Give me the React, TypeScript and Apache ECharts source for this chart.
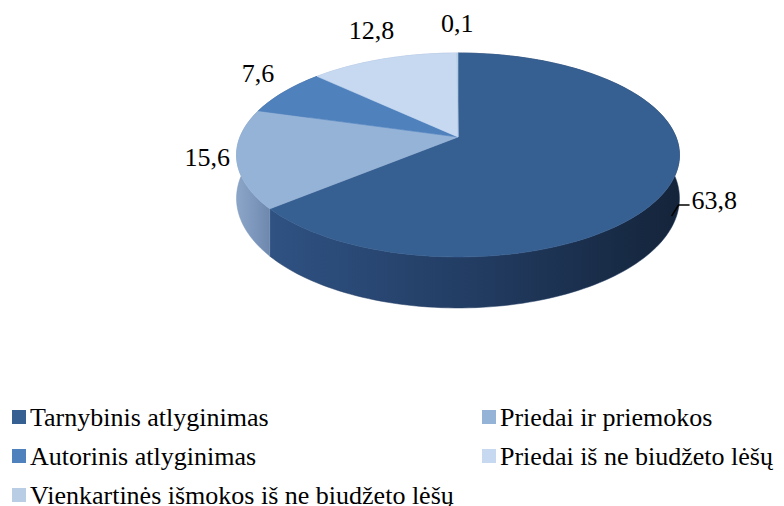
import React, { useEffect, useRef } from "react";
import * as echarts from "echarts";

const categories = [
  "Tarnybinis atlyginimas",
  "Priedai ir priemokos",
  "Autorinis atlyginimas",
  "Priedai iš ne biudžeto lėšų",
  "Vienkartinės išmokos iš ne biudžeto lėšų",
];
const values = [63.8, 15.6, 7.6, 12.8, 0.1];
const valueLabels = ["63,8", "15,6", "7,6", "12,8", "0,1"];

const topColors = ["#376092", "#95B3D7", "#4F81BD", "#C6D9F1", "#B9CDE5"];
const sideStops = [
  ["#2f5283", "#223c62", "#14243a"],
  ["#8ca6c9", "#7d98bc", "#6e88ad"],
  ["#3f6aa0", "#365d8e", "#2d4f7a"],
  ["#a9bdd8", "#9db1cc", "#90a4bf"],
  ["#9fb3cf", "#93a7c3", "#879bb7"],
];

// projection of the tilted disc
const CX = 458;
const CY = 137;
const RX = 218;
const RY = 98.8;
const K = 0.1765;
const DEPTH = 42;
const FONT = "Liberation Serif";

// legend layout
const LEG_COL_X = [12, 482];
const LEG_ROW_Y = 417;
const LEG_ROW_PITCH = 39;
const LEG_BOX = 14;

function proj(theta: number, r: number, drop: number): number[] {
  const u = r * Math.sin(theta);
  const w = r * Math.cos(theta);
  const d = 1 + K * w;
  return [CX + (RX * u) / d, CY - (RY * w) / d + drop / d];
}

const total = values.reduce((a, b) => a + b, 0);
const cumulative: number[] = [];
values.reduce((acc, v, i) => {
  cumulative[i] = acc;
  return acc + v;
}, 0);

function angles(i: number): number[] {
  const a0 = (cumulative[i] / total) * Math.PI * 2;
  const a1 = a0 + (values[i] / total) * Math.PI * 2;
  return [a0, a1];
}

function makeRenderItem(i: number) {
  return (_params: any, api: any) => {
    const v = api.value(0) as number;
    const a0 = (cumulative[i] / total) * Math.PI * 2;
    const a1 = a0 + (v / total) * Math.PI * 2;
    const n = Math.max(2, Math.ceil((a1 - a0) / (Math.PI / 120)));
    const top: number[][] = [];
    const bot: number[][] = [];
    for (let j = 0; j <= n; j++) {
      const t = a0 + ((a1 - a0) * j) / n;
      top.push(proj(t, 1, 0));
      bot.push(proj(t, 1, DEPTH));
    }
    const face = [[CX, CY], ...top];
    const side = [...top, ...bot.slice().reverse()];
    const stops = sideStops[i];
    return {
      type: "group",
      children: [
        {
          type: "polygon",
          z2: 1,
          shape: { points: side },
          style: {
            fill: {
              type: "linear",
              x: 0,
              y: 0,
              x2: 1,
              y2: 0,
              colorStops: [
                { offset: 0, color: stops[0] },
                { offset: 0.5, color: stops[1] },
                { offset: 1, color: stops[2] },
              ],
            },
            stroke: stops[1],
            lineWidth: 0.5,
          },
        },
        {
          type: "polygon",
          z2: 10,
          shape: { points: face },
          style: { fill: topColors[i], stroke: topColors[i], lineWidth: 0.6 },
        },
      ],
    };
  };
}

function labelGraphics(): any[] {
  const out: any[] = [];
  valueLabels.forEach((label, i) => {
    const [a0, a1] = angles(i);
    const mid = (a0 + a1) / 2;
    const u = Math.sin(mid);
    const w = Math.cos(mid);
    const style = { text: label, fontFamily: FONT, fontSize: 26, fill: "#000", verticalAlign: "middle" };
    if (w < -0.3) {
      const s = proj(mid, 1, DEPTH * 0.75);
      const p1 = [s[0] + 7, s[1] - 11];
      const p2 = [p1[0] + 11, p1[1]];
      out.push({
        type: "polyline",
        z: 100,
        shape: { points: [s, p1, p2] },
        style: { stroke: "#000", lineWidth: 1.5, fill: null },
      });
      out.push({ type: "text", z: 100, x: p2[0] + 2, y: p2[1] - 5, style: { ...style, align: "left" } });
    } else {
      const rim = proj(mid, 1, 0);
      out.push({
        type: "text",
        z: 100,
        x: rim[0] + 30 * u,
        y: rim[1] - 24 * w - 6,
        style: { ...style, align: "center" },
      });
    }
  });
  return out;
}

function legendGraphics(): any[] {
  const out: any[] = [];
  categories.forEach((name, i) => {
    const x = LEG_COL_X[i % 2];
    const y = LEG_ROW_Y + Math.floor(i / 2) * LEG_ROW_PITCH;
    out.push({
      type: "rect",
      z: 100,
      x,
      y: y - LEG_BOX / 2,
      shape: { width: LEG_BOX, height: LEG_BOX },
      style: { fill: topColors[i] },
    });
    out.push({
      type: "text",
      z: 100,
      x: x + LEG_BOX + 4,
      y,
      style: { text: name, fontFamily: FONT, fontSize: 26, fill: "#000", align: "left", verticalAlign: "middle" },
    });
  });
  return out;
}

export default function App() {
  const ref = useRef<HTMLDivElement>(null);
  useEffect(() => {
    document.body.style.margin = "0";
    if (!ref.current) return;
    const chart = echarts.init(ref.current, undefined, { renderer: "svg" });
    chart.setOption({
      animation: false,
      graphic: [...labelGraphics(), ...legendGraphics()],
      series: categories.map((name, i) => ({
        type: "custom",
        name,
        coordinateSystem: "none",
        itemStyle: { color: topColors[i] },
        data: [values[i]],
        renderItem: makeRenderItem(i),
      })),
    });
    return () => chart.dispose();
  }, []);
  return <div ref={ref} style={{ width: 784, height: 506 }} />;
}
